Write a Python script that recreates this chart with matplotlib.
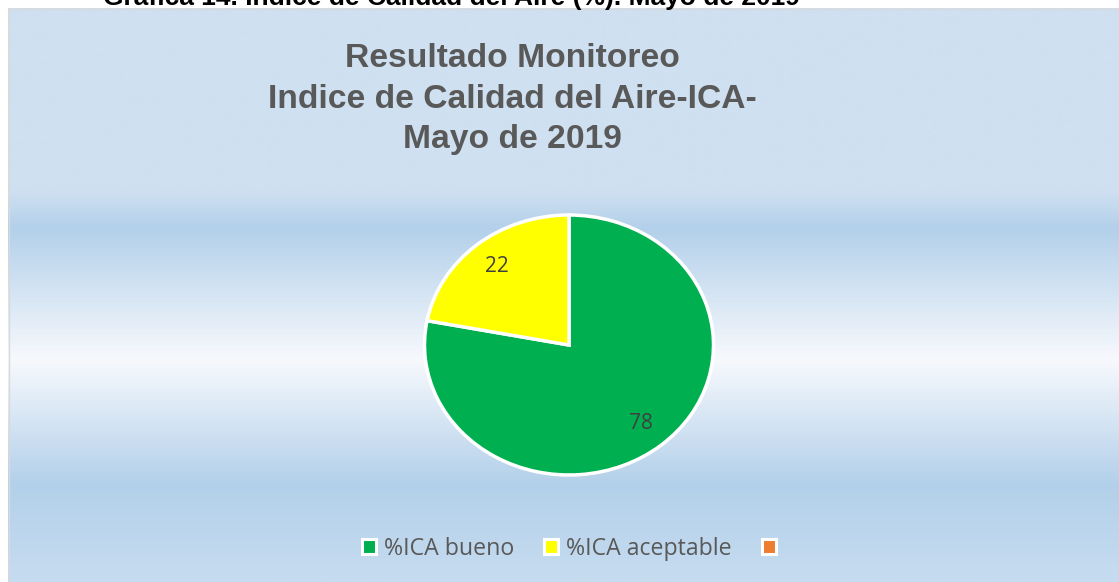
import numpy as np
import matplotlib
matplotlib.use("Agg")
import matplotlib.pyplot as plt
from matplotlib.patches import Patch
from matplotlib.colors import LinearSegmentedColormap

# ---- data ----
categories = ['%ICA bueno', '%ICA aceptable', '']
values = [78, 22]
colors = ['#00B050', '#FFFF00', '#ED7D31']
title_lines = ['Resultado Monitoreo', 'Indice de Calidad del Aire-ICA-', 'Mayo de 2019']
caption = 'Gráfica 14. Índice de Calidad del Aire (%). Mayo de 2019'

W, H = 1119, 582
fig = plt.figure(figsize=(W / 100, H / 100), dpi=100)
fig.patch.set_facecolor('white')

def fx(px):
    return px / W

def fy(py):
    return 1 - py / H

# ---- background gradient ----
top = 8
bg = fig.add_axes([fx(8), 0, 1 - fx(8), fy(top)])
stops = [(8, '#cfe0f1'), (190, '#cfe0f1'), (228, '#b3d0ea'), (360, '#f7f9fd'),
         (485, '#b3d0ea'), (582, '#c6dcf0')]
pos = [(p - 8) / (582 - 8) for p, _ in stops]
cmap = LinearSegmentedColormap.from_list('bgc', list(zip(pos, [c for _, c in stops])))
grad = np.linspace(0, 1, 600).reshape(-1, 1)
bg.imshow(grad, aspect='auto', cmap=cmap, extent=[0, 1, 1, 0], interpolation='bilinear')
bg.set_xlim(0, 1)
bg.set_ylim(1, 0)
bg.set_axis_off()
fig.add_artist(plt.Line2D([fx(8), 1], [fy(8.5), fy(8.5)], color='#d9d9d9', lw=1))
fig.add_artist(plt.Line2D([fx(8.5), fx(8.5)], [0, fy(8)], color='#d9d9d9', lw=1))

# ---- caption (cut off at top, as in the reference) ----
fig.text(fx(103), fy(5), caption, ha='left', va='baseline', fontsize=19,
         fontweight='bold', family='Liberation Sans', color='black')

# ---- title ----
for line, base in zip(title_lines, [67, 108, 148]):
    fig.text(fx(512), fy(base), line, ha='center', va='baseline', fontsize=24.2,
             fontweight='bold', family='Liberation Sans', color='#595959')

# ---- pie ----
cx, cy, rx, ry = 569, 345, 144.5, 130
ax = fig.add_axes([fx(cx - rx), fy(cy + ry), (2 * rx) / W, (2 * ry) / H])
wedges, texts, autotexts = ax.pie(
    values, colors=colors[:len(values)], startangle=90, counterclock=False,
    autopct=lambda p: f'{p:.0f}', pctdistance=0.78,
    wedgeprops=dict(edgecolor='white', linewidth=2.5),
    textprops=dict(fontsize=15, color='#404040', family='Open Sans'))
ax.set_aspect('auto')
ax.set_xlim(-1, 1)
ax.set_ylim(-1, 1)
for w in wedges:
    w.set_clip_on(False)

# ---- legend ----
handles = [Patch(facecolor=c, edgecolor='white', linewidth=2.2) for c in colors]
leg = fig.legend(handles, categories, loc='center', bbox_to_anchor=(fx(573), fy(549)),
                 ncol=3, frameon=False, handlelength=0.6, handleheight=0.6,
                 handletextpad=0.35, columnspacing=1.3,
                 prop=dict(family='Open Sans', size=16.7))
for t in leg.get_texts():
    t.set_color('#595959')

fig.savefig('out.png', dpi=100)
